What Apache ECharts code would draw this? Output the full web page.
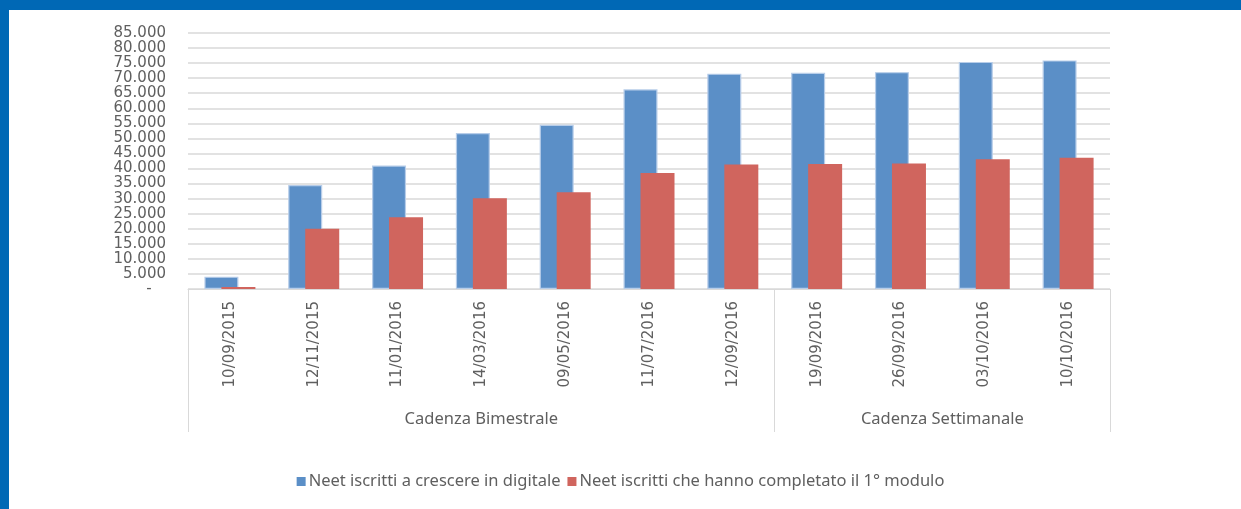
<!DOCTYPE html>
<html>
<head>
<meta charset="utf-8">
<script src="https://cdn.jsdelivr.net/npm/echarts@6/dist/echarts.min.js"></script>
<style>
  html, body { margin: 0; padding: 0; background: #ffffff; }
  #wrap { position: relative; width: 1241px; height: 509px; overflow: hidden; background: #ffffff; }
  #bandTop { position: absolute; left: 0; top: 0; width: 1241px; height: 10px; background: #0068b5; }
  #bandLeft { position: absolute; left: 0; top: 0; width: 9px; height: 509px; background: #0068b5; }
  #chart { position: absolute; left: 0; top: 0; width: 1241px; height: 509px; }
</style>
</head>
<body>
<div id="wrap">
  <div id="bandTop"></div>
  <div id="bandLeft"></div>
  <div id="chart"></div>
</div>
<script>
// ---- data ----
const categories = ['10/09/2015','12/11/2015','11/01/2016','14/03/2016','09/05/2016','11/07/2016','12/09/2016','19/09/2016','26/09/2016','03/10/2016','10/10/2016'];
const seriesNames = ['Neet iscritti a crescere in digitale', 'Neet iscritti che hanno completato il 1° modulo'];
const iscritti   = [4100, 34500, 41000, 51800, 54500, 66300, 71500, 71800, 72000, 75400, 75900];
const completato = [700, 20000, 23800, 30100, 32100, 38500, 41300, 41500, 41700, 43100, 43600];
const groupLabels = ['Cadenza Bimestrale', 'Cadenza Settimanale'];
const groupSpans = [7, 4];

// group boundaries and centers (in category units)
const groupStarts = [];
const groupCenters = {};
let acc = 0;
groupSpans.forEach((s, i) => { groupStarts.push(acc); groupCenters[acc + s / 2] = groupLabels[i]; acc += s; });

const chart = echarts.init(document.getElementById('chart'));
const gray = '#5f5f5f';
const gridColor = '#d9d9d9';

chart.setOption({
  animation: false,
  backgroundColor: 'transparent',
  grid: { left: 188, right: 131, top: 33, bottom: 220, containLabel: false },
  legend: {
    top: 468,
    left: 'center',
    itemWidth: 9,
    itemHeight: 9,
    itemGap: 7,
    icon: 'rect',
    itemStyle: { borderWidth: 0 },
    textStyle: { color: gray, fontFamily: 'Noto Sans', fontSize: 16.5, padding: [0, 0, 0, -2] },
    data: seriesNames
  },
  xAxis: [
    {
      type: 'category',
      data: categories,
      axisLine: { show: true, lineStyle: { color: gridColor, width: 1 } },
      axisTick: {
        show: true,
        interval: function (idx) { return groupStarts.indexOf(idx) >= 0; },
        length: 143,
        lineStyle: { color: gridColor, width: 1 }
      },
      axisLabel: {
        interval: 0,
        rotate: 90,
        margin: 12,
        color: gray,
        fontFamily: 'DejaVu Sans',
        fontSize: 15
      }
    },
    {
      type: 'value',
      position: 'bottom',
      min: 0,
      max: categories.length,
      interval: 0.5,
      axisLine: { show: false },
      axisTick: { show: false },
      splitLine: { show: false },
      axisLabel: {
        margin: 122,
        color: gray,
        fontFamily: 'Noto Sans',
        fontSize: 16.5,
        formatter: function (v) { return groupCenters[v] || ''; }
      }
    }
  ],
  yAxis: {
    type: 'value',
    min: 0,
    max: 85000,
    interval: 5000,
    axisLine: { show: false },
    axisTick: { show: false },
    splitLine: { show: true, lineStyle: { color: gridColor, width: 1.5 } },
    axisLabel: {
      margin: 22,
      color: gray,
      fontFamily: 'DejaVu Sans',
      fontSize: 15,
      formatter: function (v) {
        if (v === 0) return '-   ';
        return String(v).replace(/\B(?=(\d{3})+(?!\d))/g, '.');
      }
    }
  },
  series: [
    {
      name: seriesNames[0],
      type: 'bar',
      xAxisIndex: 0,
      data: iscritti,
      barWidth: 34,
      barGap: '-50%',
      itemStyle: { color: '#5b8fc7', borderColor: '#b7cde9', borderWidth: 1.2 }
    },
    {
      name: seriesNames[1],
      type: 'bar',
      xAxisIndex: 0,
      data: completato,
      barWidth: 34,
      barGap: '-50%',
      itemStyle: { color: '#d0655e' }
    }
  ]
});
</script>
</body>
</html>
